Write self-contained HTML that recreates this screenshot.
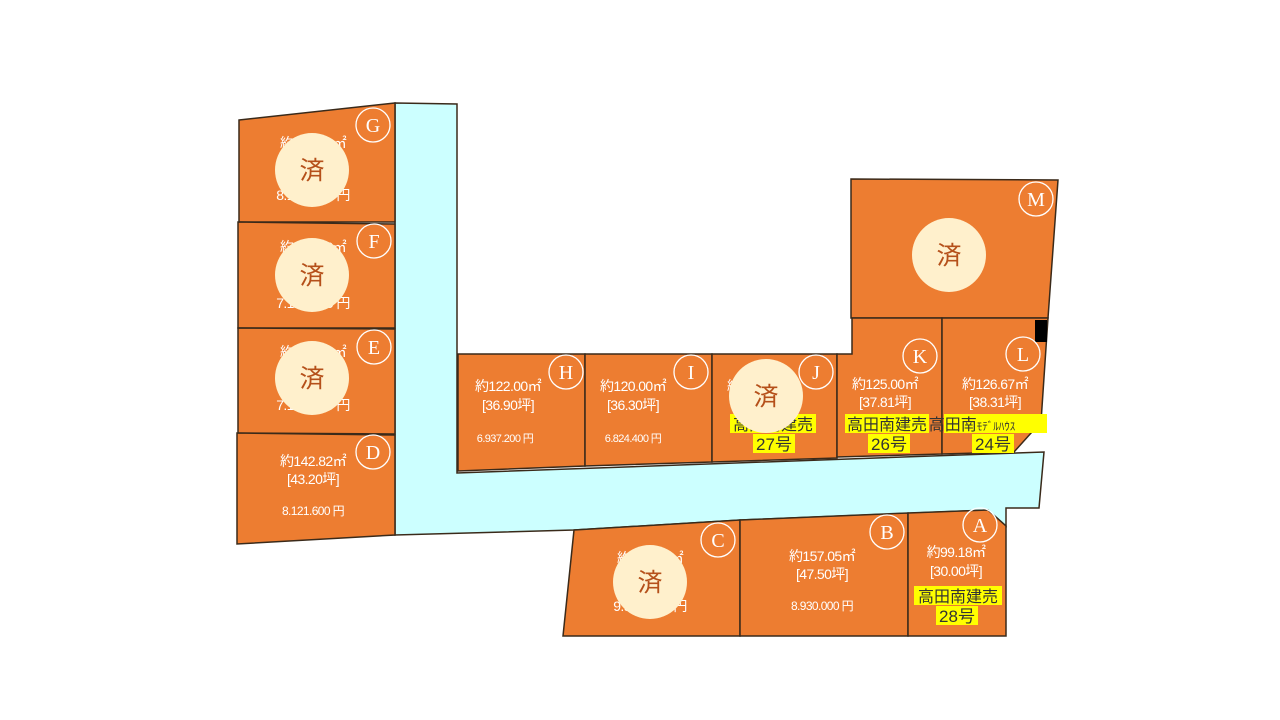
<!DOCTYPE html>
<html><head><meta charset="utf-8"><style>
html,body{margin:0;padding:0;background:#fff;}
svg{display:block}
.t{font-family:"Liberation Sans","Noto Sans CJK JP",sans-serif;fill:#fff;letter-spacing:-0.6px}
.l{font-family:"Liberation Serif",serif;fill:#fff;font-size:20px}
.y{font-family:"Liberation Sans","Noto Sans CJK JP",sans-serif;fill:#333;font-size:16px}
.s{font-family:"Liberation Sans","Noto Sans CJK JP",sans-serif;fill:#b5501a;font-size:25px}
</style></head><body>
<svg width="1280" height="720" viewBox="0 0 1280 720" xmlns="http://www.w3.org/2000/svg">
<g stroke="#3a2a1a" stroke-width="1.5">
<polygon points="395,103 457,104 457,473 1044,452 1039,508 1006,508 1006,526 988,510 740,520 574,530 395,535" fill="#ccffff"/>
<g fill="#ed7d31">
<polygon points="239,120 395,103 395,222 239,222"/>
<polygon points="238,222 395,224 395,328 238,328"/>
<polygon points="238,328 395,329 395,434 238,433"/>
<polygon points="237,433 395,435 395,535 237,544"/>
<polygon points="458,354 585,354 585,466 458,471"/>
<polygon points="585,354 712,354 712,462 585,466"/>
<polygon points="712,354 837,354 837,458 712,462"/>
<polygon points="851,179 1058,180 1048,318 851,318"/>
<polygon points="837,354 852,354 852,318 942,318 942,454 837,457"/>
<polygon points="942,318 1048,318 1041,422 1014,452 942,454"/>
<polygon points="574,530 740,520 740,636 563,636"/>
<polygon points="740,520 908,513 908,636 740,636"/>
<polygon points="908,513 988,510 1006,526 1006,636 908,636"/>
</g></g>
<rect x="1035" y="320" width="12" height="22" fill="#000"/>
<g fill="none" stroke="#fff" stroke-width="1.3">
<circle cx="373" cy="125" r="17"/><circle cx="374" cy="241" r="17"/><circle cx="374" cy="347" r="17"/><circle cx="373" cy="452" r="17"/>
<circle cx="566" cy="372" r="17"/><circle cx="691" cy="372" r="17"/><circle cx="816" cy="372" r="17"/><circle cx="920" cy="356" r="17"/><circle cx="1023" cy="354" r="17"/><circle cx="1036" cy="199" r="17"/>
<circle cx="718" cy="540" r="17"/><circle cx="887" cy="532" r="17"/><circle cx="980" cy="525" r="17"/>
</g>
<g class="l" text-anchor="middle">
<text x="373" y="132">G</text><text x="374" y="248">F</text><text x="374" y="354">E</text><text x="373" y="459">D</text>
<text x="566" y="379">H</text><text x="691" y="379">I</text><text x="816" y="379">J</text><text x="920" y="363">K</text><text x="1023" y="361">L</text><text x="1036" y="206">M</text>
<text x="718" y="547">C</text><text x="887" y="539">B</text><text x="980" y="532">A</text>
</g>
<g class="t" text-anchor="middle" font-size="14">
<text x="313" y="148">約142.82㎡</text><text x="313" y="200">8.121.600 円</text>
<text x="313" y="252">約142.82㎡</text><text x="313" y="308">7.121.600 円</text>
<text x="313" y="357">約142.82㎡</text><text x="313" y="410">7.121.600 円</text>
<text x="313" y="466">約142.82㎡</text><text x="313" y="484">[43.20坪]</text><text x="313" y="515" font-size="12">8.121.600 円</text>
<text x="508" y="391">約122.00㎡</text><text x="508" y="410">[36.90坪]</text><text x="505" y="442" font-size="11">6.937.200 円</text>
<text x="633" y="391">約120.00㎡</text><text x="633" y="410">[36.30坪]</text><text x="633" y="442" font-size="11">6.824.400 円</text>
<text x="760" y="391">約120.00㎡</text><text x="760" y="410">[36.30坪]</text>
<text x="885" y="389">約125.00㎡</text><text x="885" y="407">[37.81坪]</text>
<text x="995" y="389">約126.67㎡</text><text x="995" y="407">[38.31坪]</text>
<text x="650" y="563">約157.05㎡</text><text x="650" y="611">9.930.000 円</text>
<text x="822" y="561">約157.05㎡</text><text x="822" y="579">[47.50坪]</text><text x="822" y="610" font-size="12">8.930.000 円</text>
<text x="956" y="557">約99.18㎡</text><text x="956" y="576">[30.00坪]</text>
</g>
<g fill="#ffff00">
<rect x="730" y="414" width="86" height="19"/><rect x="753" y="434" width="42" height="19"/>
<rect x="845" y="414" width="84" height="19"/><rect x="868" y="434" width="42" height="19"/>
<rect x="944" y="414" width="103" height="19"/><rect x="972" y="434" width="42" height="19"/>
<rect x="914" y="586" width="88" height="19"/><rect x="936" y="606" width="42" height="19"/>
</g>
<g class="y" text-anchor="middle">
<text x="773" y="430">高田南建売</text><text x="774" y="450" font-size="17">27号</text>
<text x="887" y="430">高田南建売</text><text x="889" y="450" font-size="17">26号</text>
<text x="972" y="430">高田南<tspan font-size="11">ﾓﾃﾞﾙﾊｳｽ</tspan></text><text x="993" y="450" font-size="17">24号</text>
<text x="958" y="602">高田南建売</text><text x="957" y="622" font-size="17">28号</text>
</g>
<g fill="#fff0cc">
<circle cx="312" cy="170" r="37"/><circle cx="312" cy="275" r="37"/><circle cx="312" cy="378" r="37"/>
<circle cx="766" cy="396" r="37"/><circle cx="650" cy="582" r="37"/><circle cx="949" cy="255" r="37"/>
</g>
<g class="s" text-anchor="middle">
<text x="312" y="179">済</text><text x="312" y="284">済</text><text x="312" y="387">済</text>
<text x="766" y="405">済</text><text x="650" y="591">済</text><text x="949" y="264">済</text>
</g>
</svg>
</body></html>
